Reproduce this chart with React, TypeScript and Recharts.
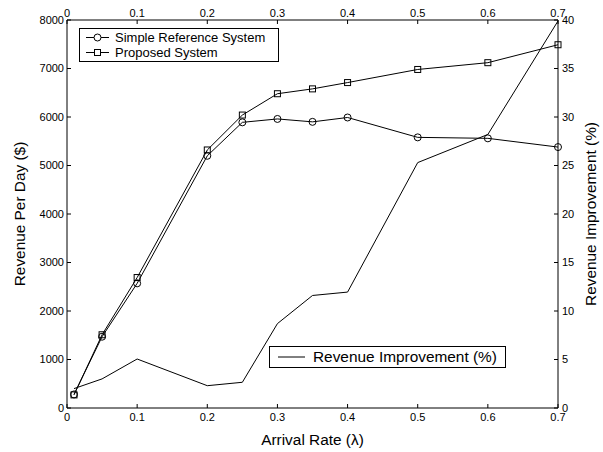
import React from 'react';
import { ComposedChart, Line, XAxis, YAxis, Legend } from 'recharts';

const arrivalRates = [0.01, 0.05, 0.1, 0.2, 0.25, 0.3, 0.35, 0.4, 0.5, 0.6, 0.7];
const simpleRevenue = [280, 1470, 2570, 5200, 5890, 5960, 5900, 5990, 5580, 5560, 5380];
const proposedRevenue = [270, 1510, 2690, 5320, 6040, 6480, 6580, 6710, 6980, 7120, 7490];
const improvementPct = [2.0, 3.0, 5.05, 2.3, 2.65, 8.7, 11.6, 11.95, 25.3, 28.2, 39.9];

const xTicks = [0, 0.1, 0.2, 0.3, 0.4, 0.5, 0.6, 0.7];
const leftTicks = [0, 1000, 2000, 3000, 4000, 5000, 6000, 7000, 8000];
const rightTicks = [0, 5, 10, 15, 20, 25, 30, 35, 40];

const seriesNames = ['Simple Reference System', 'Proposed System', 'Revenue Improvement (%)'];

const data = arrivalRates.map((x, i) => ({
  x,
  simple: simpleRevenue[i],
  proposed: proposedRevenue[i],
  improvement: improvementPct[i],
}));

const FONT = '"Liberation Sans", Arial, Helvetica, sans-serif';
const tickStyle = { fill: '#000', fontSize: 11, fontFamily: FONT };
const LABEL_SIZE = 15.4;

const CircleDot = (props: any) => {
  const { cx, cy, index } = props;
  return <circle key={`c${index}`} cx={cx} cy={cy} r={3.5} fill="none" stroke="#000" strokeWidth={1} />;
};

const SquareDot = (props: any) => {
  const { cx, cy, index } = props;
  return <rect key={`s${index}`} x={cx - 3} y={cy - 3} width={6} height={6} fill="none" stroke="#000" strokeWidth={1} />;
};

const renderLegend = () => (
  <div style={{ position: 'relative', width: 603, height: 452, fontFamily: FONT, color: '#000', pointerEvents: 'none' }}>
    <div style={{ position: 'absolute', left: 79, top: 28, width: 200, height: 34, border: '1px solid #000', background: '#fff', boxSizing: 'border-box' }}>
      <svg style={{ position: 'absolute', left: 0, top: 0 }} width={40} height={32}>
        <line x1={6} x2={29} y1={8.5} y2={8.5} stroke="#000" strokeWidth={1} />
        <circle cx={17.5} cy={8.5} r={3.5} fill="#fff" stroke="#000" strokeWidth={1} />
        <line x1={6} x2={29} y1={23.5} y2={23.5} stroke="#000" strokeWidth={1} />
        <rect x={14.5} y={20.5} width={6} height={6} fill="#fff" stroke="#000" strokeWidth={1} />
      </svg>
      <div style={{ position: 'absolute', left: 35, top: 1, fontSize: 13, lineHeight: '15px', whiteSpace: 'nowrap' }}>{seriesNames[0]}</div>
      <div style={{ position: 'absolute', left: 35, top: 16, fontSize: 13, lineHeight: '15px', whiteSpace: 'nowrap' }}>{seriesNames[1]}</div>
    </div>
    <div style={{ position: 'absolute', left: 269, top: 346, width: 237, height: 22, border: '1px solid #000', background: '#fff', boxSizing: 'border-box' }}>
      <svg style={{ position: 'absolute', left: 0, top: 0 }} width={40} height={20}>
        <line x1={8} x2={35} y1={10} y2={10} stroke="#000" strokeWidth={1} />
      </svg>
      <div style={{ position: 'absolute', left: 43, top: 1, fontSize: 15.4, lineHeight: '18px', whiteSpace: 'nowrap' }}>{seriesNames[2]}</div>
    </div>
  </div>
);

export default function App() {
  return (
    <div style={{ position: 'absolute', left: 0, top: 0, width: 603, height: 452, background: '#fff' }}>
      <ComposedChart width={603} height={452} data={data} margin={{ top: 0, right: 0, bottom: 0, left: 0 }}>
        <XAxis
          xAxisId="bottom"
          dataKey="x"
          type="number"
          domain={[0, 0.7]}
          ticks={xTicks}
          orientation="bottom"
          height={44}
          tick={tickStyle}
          tickSize={-4}
          tickMargin={9}
          tickLine={{ stroke: '#000' }}
          axisLine={{ stroke: '#000' }}
          interval={0}
          label={{ value: 'Arrival Rate (λ)', position: 'center', dy: 10, fill: '#000', fontSize: LABEL_SIZE, fontFamily: FONT }}
        />
        <XAxis
          xAxisId="top"
          dataKey="x"
          type="number"
          domain={[0, 0.7]}
          ticks={xTicks}
          orientation="top"
          height={20}
          tick={tickStyle}
          tickSize={-4}
          tickMargin={7}
          tickLine={{ stroke: '#000' }}
          axisLine={{ stroke: '#000' }}
          interval={0}
        />
        <YAxis
          yAxisId="left"
          orientation="left"
          type="number"
          domain={[0, 8000]}
          ticks={leftTicks}
          width={67}
          tick={tickStyle}
          tickSize={-4}
          tickMargin={7}
          tickLine={{ stroke: '#000' }}
          axisLine={{ stroke: '#000' }}
          interval={0}
          label={{ value: 'Revenue Per Day ($)', angle: -90, position: 'center', dx: -13.5, fill: '#000', fontSize: LABEL_SIZE, fontFamily: FONT }}
        />
        <YAxis
          yAxisId="right"
          orientation="right"
          type="number"
          domain={[0, 40]}
          ticks={rightTicks}
          width={45}
          tick={tickStyle}
          tickSize={-4}
          tickMargin={8}
          tickLine={{ stroke: '#000' }}
          axisLine={{ stroke: '#000' }}
          interval={0}
          label={{ value: 'Revenue Improvement (%)', angle: -90, position: 'center', dx: 10, fill: '#000', fontSize: LABEL_SIZE, fontFamily: FONT }}
        />
        <Legend
          content={renderLegend}
          layout="horizontal"
          verticalAlign="middle"
          align="center"
          wrapperStyle={{ left: 0, top: 0, width: 603, height: 452, pointerEvents: 'none' }}
        />
        <Line
          xAxisId="bottom"
          yAxisId="right"
          dataKey="improvement"
          name={seriesNames[2]}
          type="linear"
          stroke="#000"
          strokeWidth={1}
          dot={false}
          isAnimationActive={false}
        />
        <Line
          xAxisId="bottom"
          yAxisId="left"
          dataKey="simple"
          name={seriesNames[0]}
          type="linear"
          stroke="#000"
          strokeWidth={1}
          dot={CircleDot}
          activeDot={false}
          isAnimationActive={false}
        />
        <Line
          xAxisId="bottom"
          yAxisId="left"
          dataKey="proposed"
          name={seriesNames[1]}
          type="linear"
          stroke="#000"
          strokeWidth={1}
          dot={SquareDot}
          activeDot={false}
          isAnimationActive={false}
        />
      </ComposedChart>
    </div>
  );
}
